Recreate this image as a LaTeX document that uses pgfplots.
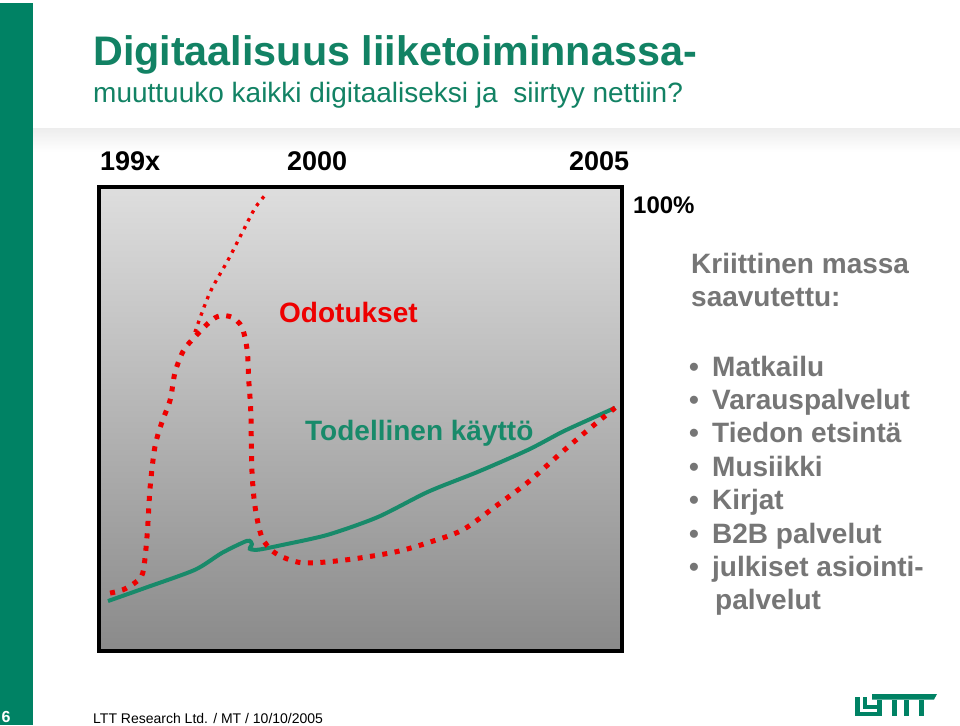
\documentclass[border=0pt]{standalone}
\usepackage{pgfplots}
\pgfplotsset{compat=1.18}
\usepackage{fontspec}
\setmainfont{Liberation Sans}
\definecolor{stripgreen}{RGB}{0,130,100}
\definecolor{titlegreen}{RGB}{18,130,100}
\definecolor{linegreen}{RGB}{24,138,106}
\definecolor{txtgray}{RGB}{118,118,118}
\definecolor{bgtop}{RGB}{222,222,222}
\definecolor{bgbot}{RGB}{138,138,138}
\definecolor{dotred}{RGB}{238,0,0}
\begin{document}
\begin{tikzpicture}[x=1pt,y=1pt]
\useasboundingbox (0,0) rectangle (960,-725);
\clip (0,0) rectangle (960,-725);
\fill[white] (0,0) rectangle (960,-725);
\fill[stripgreen] (0,-3) rectangle (33,-725);
\shade[top color=black!7, bottom color=white] (33,-128) rectangle (960,-152);
% page number
\node[anchor=base west, text=white, inner sep=0, font=\fontsize{16}{19}\selectfont\bfseries] at (1.5,-722) {6};
% title
\node[anchor=base west, text=titlegreen, inner sep=0, font=\fontsize{41.3}{48}\selectfont\bfseries] at (93,-65) {Digitaalisuus liiketoiminnassa-};
\node[anchor=base west, text=titlegreen, inner sep=0, font=\fontsize{28}{32}\selectfont] at (93,-102) {muuttuuko kaikki digitaaliseksi ja\ \ siirtyy nettiin?};
% year labels
\node[anchor=base west, inner sep=0, font=\fontsize{27}{31}\selectfont\bfseries] at (100,-170) {199x};
\node[anchor=base west, inner sep=0, font=\fontsize{27}{31}\selectfont\bfseries] at (287,-170) {2000};
\node[anchor=base west, inner sep=0, font=\fontsize{27}{31}\selectfont\bfseries] at (569,-170) {2005};
\node[anchor=base west, inner sep=0, font=\fontsize{24}{28}\selectfont\bfseries] at (633,-213) {100\%};
\begin{axis}[
  at={(99pt,-651pt)}, anchor=south west,
  scale only axis, width=523pt, height=464pt,
  xmin=0.4, xmax=99.6, ymin=0.4, ymax=99.8,
  xtick=\empty, ytick=\empty,
  axis line style={line width=4pt, black},
  axis background/.style={top color=bgtop, bottom color=bgbot},
  clip=false,
]
% Todellinen kaytto
\addplot[linegreen, line width=4pt, smooth, tension=0.45] coordinates {
 (2.1,11.1) (9.1,13.9) (18.6,17.8) (23.7,21.4) (28.5,24.0) (29.4,23.3)
 (29.0,22.3) (30.6,22.1) (35.1,23.1) (43.8,25.3) (53.3,29.1) (62.8,34.5)
 (72.3,38.8) (81.8,43.5) (88.2,47.3) (93.2,49.9) (98.3,52.5)};
% Odotukset (main)
\addplot[dotred, line width=5pt, dash pattern=on 5pt off 7.5pt, smooth, tension=0.5] coordinates {
 (2.5,12.8) (4.9,13.5) (7.2,15.0) (8.7,17.1) (9.5,24.8) (10.1,35.5)
 (11.0,44.1) (12.3,49.3) (13.9,54.2) (14.8,60.0) (16.3,64.5) (18.0,67.0)
 (21.4,70.9) (23.3,72.2) (25.6,71.9) (27.5,69.8) (28.5,64.9) (28.8,58.5)
 (29.2,51.4) (29.4,39.2) (30.0,31.3) (31.3,24.8) (33.8,21.4) (38.9,19.3)
 (47.1,19.9) (56.5,21.6) (62.8,23.6) (69.3,26.3) (75.5,31.3) (81.8,36.6)
 (88.2,43.0) (93.2,47.8) (98.3,52.5)};
% Odotukset (thin branch)
\addplot[dotred, line width=3.3pt, dash pattern=on 3.3pt off 5.5pt, smooth, tension=0.5] coordinates {
 (18.6,68.7) (21.4,77.1) (24.9,84.2) (27.5,89.9) (30.0,95.3) (32.1,98.3)};
\end{axis}
\node[anchor=base west, text=dotred, inner sep=0, font=\fontsize{28}{32}\selectfont\bfseries] at (279,-322) {Odotukset};
\node[anchor=base west, text=linegreen, inner sep=0, font=\fontsize{28}{32}\selectfont\bfseries] at (305,-440) {Todellinen käyttö};
% right text
\begin{scope}[every node/.style={anchor=base west, text=txtgray, inner sep=0, font=\fontsize{28}{32}\selectfont\bfseries}]
\node at (691,-273) {Kriittinen massa};
\node at (691,-306) {saavutettu:};
\foreach \t [count=\i from 0] in {Matkailu, Varauspalvelut, Tiedon etsintä, Musiikki, Kirjat, B2B palvelut, julkiset asiointi-}{
  \node at (689,-376-33.4*\i) {•};
  \node at (712,-376-33.4*\i) {\t};
}
\node at (715,-609.8) {palvelut};
\end{scope}
% footer
\node[anchor=base west, inner sep=0, font=\fontsize{14}{16}\selectfont] at (93,-723) {LTT Research Ltd. / MT / 10/10/2005};
% logo
\begin{scope}[stripgreen]
\fill (855,-697) rectangle (859.5,-716);
\fill (855,-711.5) rectangle (880,-716);
\fill (862.5,-697) rectangle (867,-709);
\fill (862.5,-704.5) rectangle (880,-709);
\fill (872,-694) -- (937,-694) -- (934,-699.5) -- (872,-699.5) -- cycle;
\fill (877,-699.5) rectangle (881.5,-716);
\fill (892,-699.5) rectangle (896.5,-716);
\fill (904,-699.5) rectangle (908.5,-716);
\fill (919,-699.5) rectangle (923.5,-716);
\end{scope}
\end{tikzpicture}
\end{document}
